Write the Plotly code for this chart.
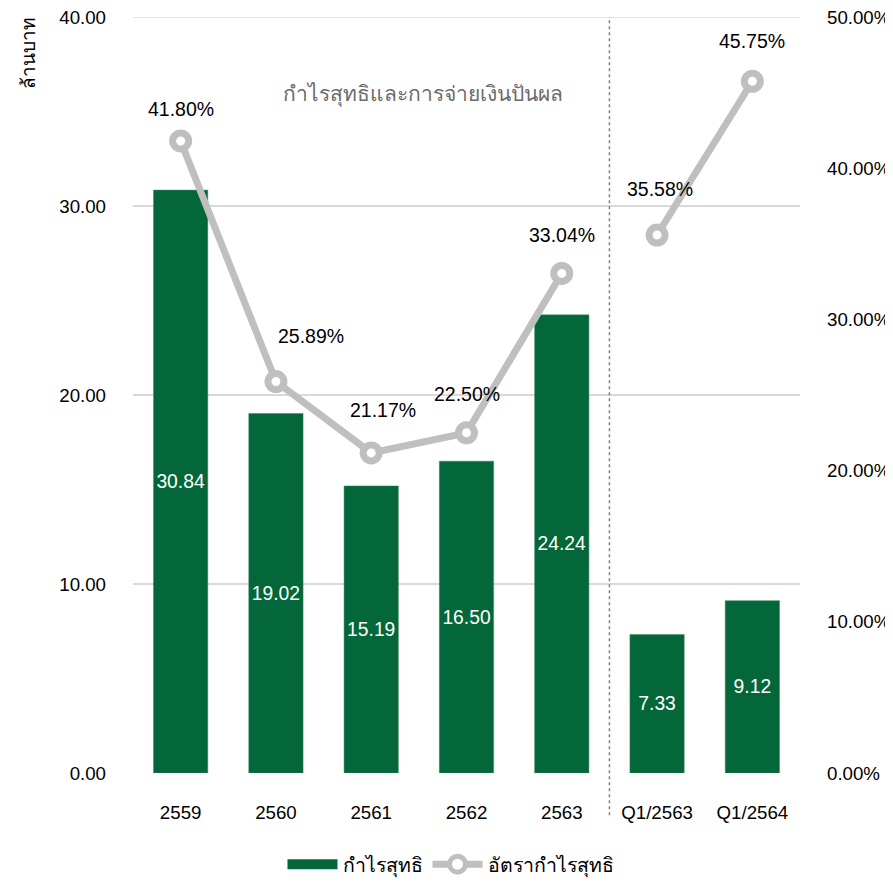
import plotly.graph_objects as go

# ข้อมูล
categories = ["2559", "2560", "2561", "2562", "2563", "Q1/2563", "Q1/2564"]
net_profit = [30.84, 19.02, 15.19, 16.50, 24.24, 7.33, 9.12]
profit_margin = [41.80, 25.89, 21.17, 22.50, 33.04, 35.58, 45.75]
n_annual = 5
y_max = 40
y2_max = 50

chart_title = "กำไรสุทธิและการจ่ายเงินปันผล"
y_title = "ล้านบาท"

GREEN = "#03673A"
GREY = "#BFBFBF"
FONT = "Liberation Sans, Arial, sans-serif"
TICK = 18.7

idx = list(range(len(categories)))

fig = go.Figure()

fig.add_trace(go.Bar(
    x=idx, y=net_profit, name="กำไรสุทธิ", showlegend=False,
    marker=dict(color=GREEN, line=dict(width=0.5, color="#3E8A63")),
    text=[f"{v:.2f}" for v in net_profit],
    textposition="inside", insidetextanchor="middle",
    textangle=0, constraintext="none",
    textfont=dict(color="white", size=19.3, family=FONT),
    width=0.57,
))
# สัญลักษณ์คำอธิบายแบบแถบกว้าง
fig.add_trace(go.Scatter(
    x=[None], y=[None], mode="lines", name="กำไรสุทธิ",
    line=dict(color=GREEN, width=16),
))

line_style = dict(color=GREY, width=7)
marker_style = dict(size=16, color="white", symbol="circle",
                    line=dict(color=GREY, width=7))

fig.add_trace(go.Scatter(
    x=idx[:n_annual], y=profit_margin[:n_annual], yaxis="y2",
    mode="lines+markers", name="อัตรากำไรสุทธิ",
    line=line_style, marker=marker_style,
))
fig.add_trace(go.Scatter(
    x=idx[n_annual:], y=profit_margin[n_annual:], yaxis="y2",
    mode="lines+markers", name="อัตรากำไรสุทธิ", showlegend=False,
    line=line_style, marker=marker_style,
))

# ป้ายค่าเส้น (เลื่อนเล็กน้อยแบบกราฟต้นฉบับ)
label_dx = [0, 35, 12, 0, 0, 3, 0]
label_dy = [32, 46, 43, 39, 38, 46, 40]
for i, v, dx, dy in zip(idx, profit_margin, label_dx, label_dy):
    fig.add_annotation(
        x=i, y=v, xref="x", yref="y2", text=f"{v:.2f}%", showarrow=False,
        xshift=dx, yshift=dy, font=dict(size=19.5, color="black", family=FONT),
    )

# เส้นกริดบนสุด (plotly ตัดเส้นที่ขอบออก)
fig.add_shape(
    type="line", xref="paper", yref="y", x0=0, x1=1, y0=y_max, y1=y_max,
    line=dict(color="#D9D9D9", width=1.5), layer="below",
)
# เส้นคั่นปี / ไตรมาส
fig.add_shape(
    type="line", xref="x", yref="paper", x0=n_annual - 0.5, x1=n_annual - 0.5,
    y0=-0.056, y1=1.0, line=dict(color="#7F7F7F", width=1.5, dash="dot"),
)

fig.add_annotation(
    x=0.435, y=0.917, xref="paper", yref="paper", text=chart_title,
    showarrow=False, font=dict(size=21, color="#6B6B6B", family=FONT),
)
fig.add_annotation(
    xref="paper", yref="paper", x=-0.157, y=1.003, xanchor="center", yanchor="top",
    text=y_title, textangle=-90, showarrow=False,
    font=dict(size=19, color="black", family=FONT),
)

# หน้า html มีขอบ body 8px จึงลดขนาดรูปลงให้พอดีหน้าต่าง
fig.update_layout(
    width=885, height=876,
    paper_bgcolor="white", plot_bgcolor="white",
    font=dict(family=FONT, size=TICK, color="black"),
    margin=dict(l=125, r=93, t=9, b=111),
    showlegend=True,
    legend=dict(orientation="h", xref="container", x=0.5, xanchor="center",
                yref="container", y=0.0, yanchor="bottom",
                font=dict(size=19.5), itemwidth=50),
    xaxis=dict(range=[-0.5, len(categories) - 0.5], tickvals=idx,
               ticktext=categories, showgrid=False, showline=False,
               zeroline=False, ticks="", ticklabelstandoff=26,
               tickfont=dict(size=TICK), automargin=False),
    yaxis=dict(range=[0, y_max], dtick=10, tickformat=".2f", showgrid=True,
               gridcolor="#D9D9D9", gridwidth=1.5, zeroline=False,
               ticks="", ticklabelstandoff=26, tickfont=dict(size=TICK),
               ticklabeloverflow="allow", automargin=False),
    yaxis2=dict(range=[0, y2_max], dtick=10, tickformat=".2f", ticksuffix="%",
                overlaying="y", side="right", showgrid=False, zeroline=False,
                ticks="", ticklabelstandoff=26, tickfont=dict(size=TICK),
                ticklabeloverflow="allow", automargin=False),
)

fig.write_html("out.html")
